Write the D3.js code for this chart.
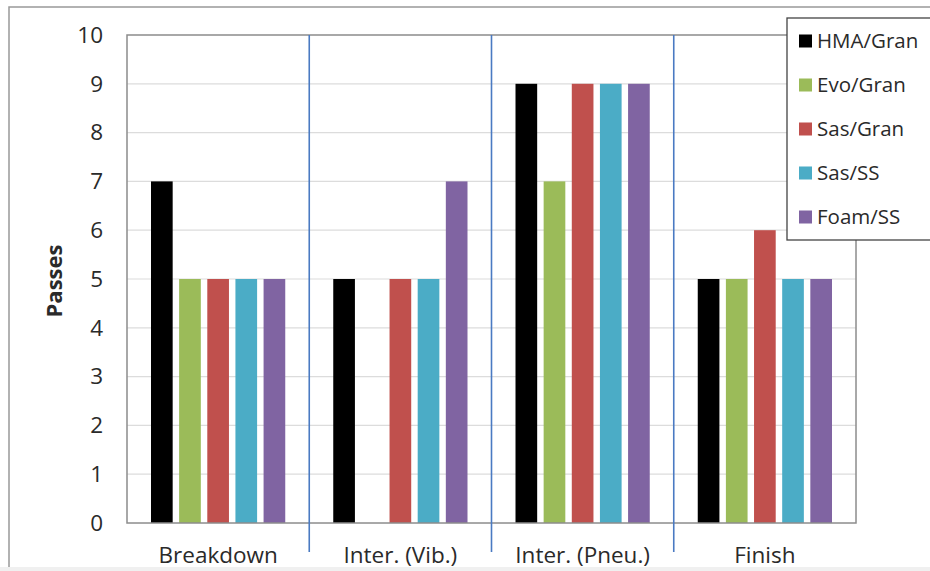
<!DOCTYPE html>
<html><head><meta charset="utf-8">
<script src="https://cdn.jsdelivr.net/npm/d3@7"></script>
<style>body{margin:0;background:#fff;}svg{display:block;}text{font-family:"Open Sans",sans-serif;fill:#2a2a2a;}</style>
</head><body>
<svg id="c" width="930" height="571"></svg>
<script>
const categories = ["Breakdown", "Inter. (Vib.)", "Inter. (Pneu.)", "Finish"];
const seriesNames = ["HMA/Gran", "Evo/Gran", "Sas/Gran", "Sas/SS", "Foam/SS"];
const seriesColors = ["#000000", "#9bbb59", "#c0504d", "#4bacc6", "#8064a2"];
const hmaGran = [7, 5, 9, 5];
const evoGran = [5, 0, 7, 5];
const sasGran = [5, 5, 9, 6];
const sasSS = [5, 5, 9, 5];
const foamSS = [5, 7, 9, 5];
const yTicks = [0,1,2,3,4,5,6,7,8,9,10];
const yLabel = "Passes";

const seriesValues = [hmaGran, evoGran, sasGran, sasSS, foamSS];
const svg = d3.select("#c");
const L = 127, R = 856, T = 35, B = 523;
const FONT = "'Open Sans',sans-serif";

// outer frame
svg.append("rect").attr("x",9).attr("y",7).attr("width",940).attr("height",600)
  .attr("fill","none").attr("stroke","#999").attr("stroke-width",1.5);
svg.append("rect").attr("x",0).attr("y",567).attr("width",930).attr("height",4).attr("fill","#f0f0f0");

const y = d3.scaleLinear().domain([0,10]).range([B,T]);
const x0 = d3.scaleBand().domain(categories).range([L,R]).paddingInner(0).paddingOuter(0);
const x1 = d3.scaleBand().domain(seriesNames).range([24, x0.bandwidth()-24]).paddingInner(0.23).paddingOuter(0);

// grid
svg.append("g").selectAll("line").data(yTicks.filter(d=>d>0 && d<10)).join("line")
  .attr("x1",L).attr("x2",R).attr("y1",d=>y(d)).attr("y2",d=>y(d))
  .attr("stroke","#dcdcdc").attr("stroke-width",1.2);

// bars
const data = [];
categories.forEach((c,i)=>seriesNames.forEach((s,j)=>data.push({c,s,v:seriesValues[j][i],col:seriesColors[j]})));
svg.append("g").selectAll("rect").data(data.filter(d=>d.v>0)).join("rect")
  .attr("x",d=>x0(d.c)+x1(d.s)).attr("width",x1.bandwidth())
  .attr("y",d=>y(d.v)).attr("height",d=>B-y(d.v)).attr("fill",d=>d.col);

// plot border
svg.append("rect").attr("x",L).attr("y",T).attr("width",R-L).attr("height",B-T)
  .attr("fill","none").attr("stroke","#8c8c8c").attr("stroke-width",1.5);

// separators
svg.append("g").selectAll("line").data(categories.slice(1)).join("line")
  .attr("x1",d=>x0(d)).attr("x2",d=>x0(d)).attr("y1",T).attr("y2",552)
  .attr("stroke","#4a7ac2").attr("stroke-width",1.6);

// y axis labels
const yAxis = d3.axisLeft(y).tickValues(yTicks).tickSize(0).tickPadding(24);
const ga = svg.append("g").attr("transform",`translate(${L},0)`).call(yAxis);
ga.select(".domain").remove();
ga.selectAll("text").style("font-size","22.5px").style("font-family",FONT).attr("fill","#2a2a2a");

// x axis labels
const xAxis = d3.axisBottom(x0).tickSize(0).tickPadding(24);
const gx = svg.append("g").attr("transform",`translate(0,${B})`).call(xAxis);
gx.select(".domain").remove();
gx.selectAll("text").style("font-size","22.5px").style("font-family",FONT).attr("fill","#2a2a2a");

// y label
svg.append("text").attr("transform","translate(62,281) rotate(-90)").attr("text-anchor","middle")
  .style("font-size","22px").style("font-weight","bold").style("font-family",FONT).text(yLabel);

// legend
const lg = svg.append("g");
lg.append("rect").attr("x",787).attr("y",18).attr("width",160).attr("height",222)
  .attr("fill","#fff").attr("stroke","#444").attr("stroke-width",1.3);
const rowY = d3.scalePoint().domain(seriesNames).range([41,217]);
seriesNames.forEach((s,j)=>{
  lg.append("rect").attr("x",799).attr("y",rowY(s)-6.5).attr("width",13).attr("height",13).attr("fill",seriesColors[j]);
  lg.append("text").attr("x",817).attr("y",rowY(s)).attr("dy","0.36em").style("font-size","20.5px").style("font-family",FONT).text(s);
});
</script>
</body></html>
